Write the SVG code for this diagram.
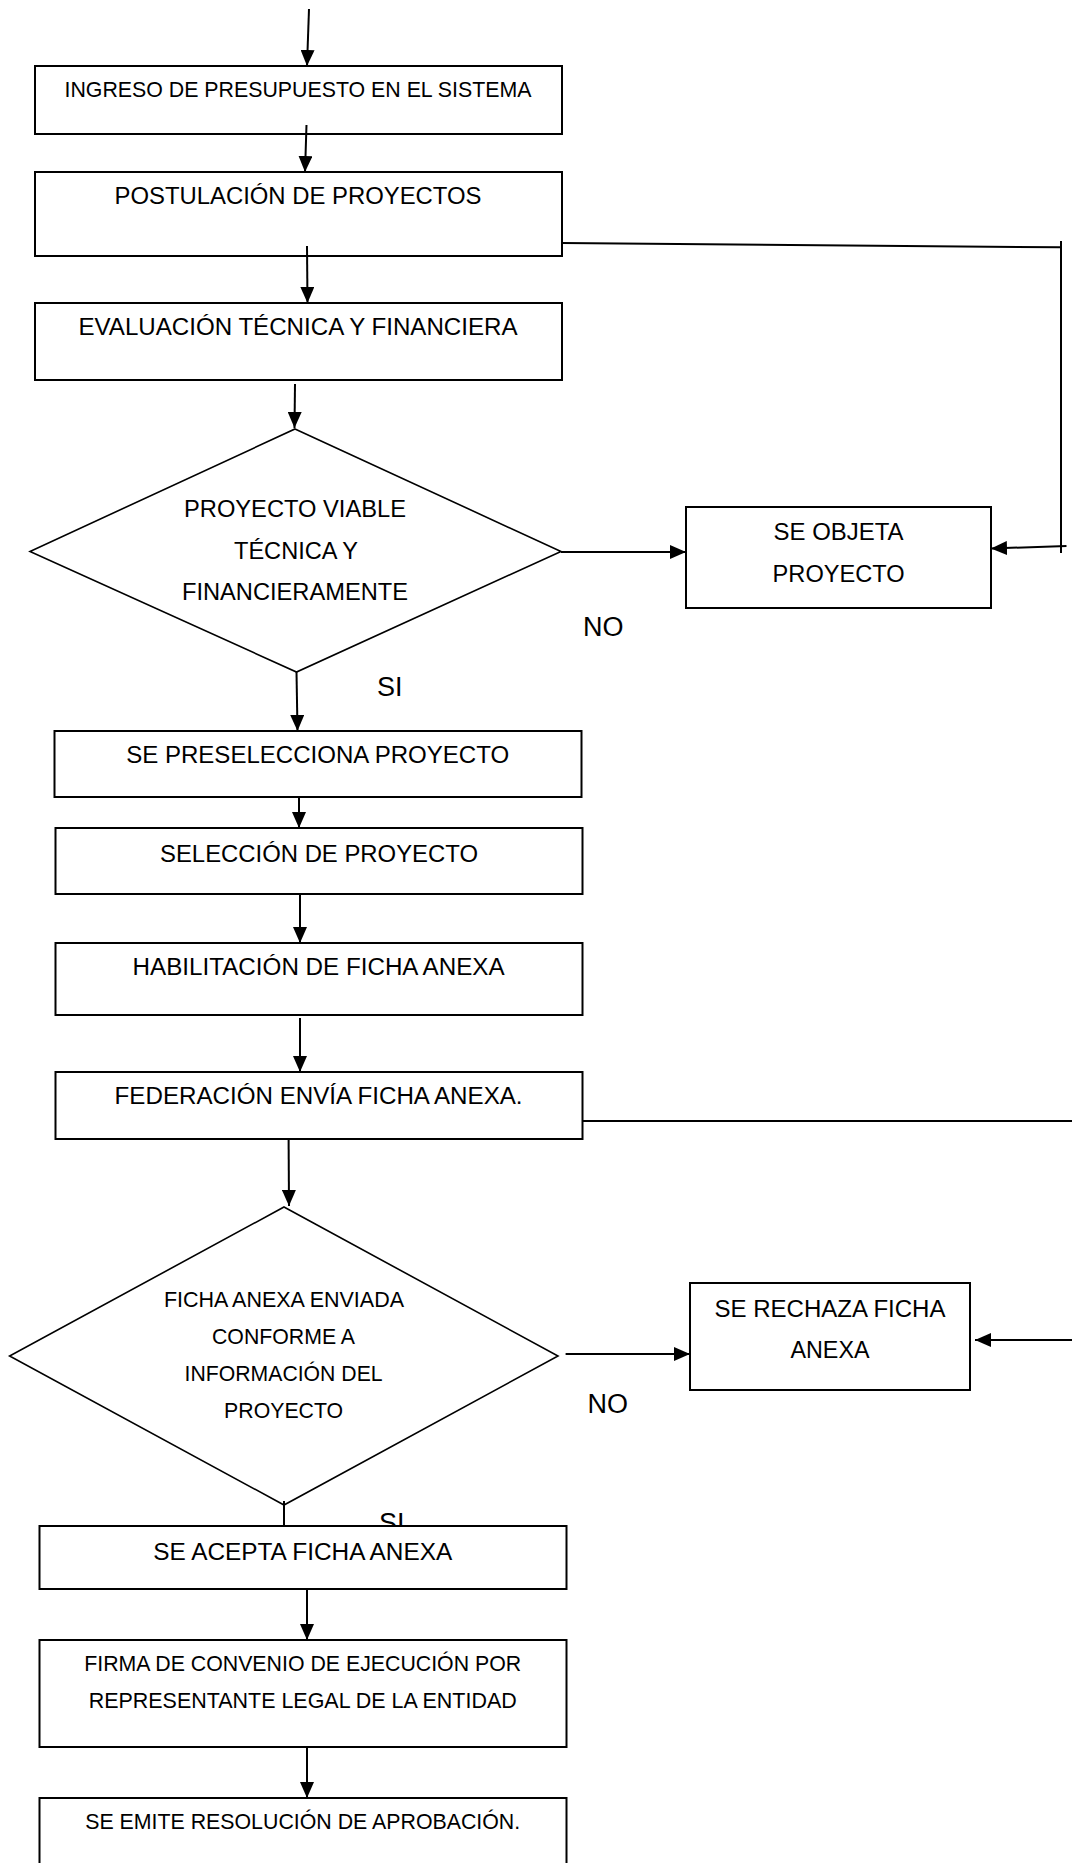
<svg xmlns="http://www.w3.org/2000/svg" width="1072" height="1863" viewBox="0 0 1072 1863">
<style>
.box{fill:#fff;stroke:#000;stroke-width:2}
.dia{fill:#fff;stroke:#000;stroke-width:1.6}
.t{font-family:"Liberation Sans",Arial,sans-serif;fill:#000;text-anchor:middle}
.s21{font-size:22.5px}
.s23{font-size:24.5px}
.lbl{font-family:"Liberation Sans",Arial,sans-serif;font-size:27px;fill:#000}
.c{stroke:#000;stroke-width:2;fill:none}
.a{marker-end:url(#ah)}
</style>
<defs>
<marker id="ah" markerUnits="userSpaceOnUse" markerWidth="16" markerHeight="14" refX="16" refY="7" orient="auto">
<path d="M0,0 L16,7 L0,14 z" fill="#000"/>
</marker>
</defs>
<rect width="1072" height="1863" fill="#fff"/>
<g id="label-si-2"><text class="lbl" x="379" y="1532">SI</text></g>
<g id="n1"><rect class="box" x="35" y="66" width="527" height="68"/><text class="t s21" x="298" y="97" textLength="467" lengthAdjust="spacingAndGlyphs">INGRESO DE PRESUPUESTO EN EL SISTEMA</text></g>
<g id="n2"><rect class="box" x="35" y="172" width="527" height="84"/><text class="t s23" x="298" y="204" textLength="367" lengthAdjust="spacingAndGlyphs">POSTULACIÓN DE PROYECTOS</text></g>
<g id="n3"><rect class="box" x="35" y="303" width="527" height="77"/><text class="t s23" x="298" y="335" textLength="439" lengthAdjust="spacingAndGlyphs">EVALUACIÓN TÉCNICA Y FINANCIERA</text></g>
<g id="d1"><polygon class="dia" points="295,429 561,551.5 296.5,672 30,551.5"/>
<text class="t s23" x="295" y="517" textLength="222" lengthAdjust="spacingAndGlyphs">PROYECTO VIABLE</text>
<text class="t s23" x="296" y="559" textLength="124" lengthAdjust="spacingAndGlyphs">TÉCNICA Y</text>
<text class="t s23" x="295" y="600" textLength="226" lengthAdjust="spacingAndGlyphs">FINANCIERAMENTE</text></g>
<g id="n-objeta"><rect class="box" x="686" y="507" width="305" height="101"/>
<text class="t s23" x="838.6" y="540" textLength="130" lengthAdjust="spacingAndGlyphs">SE OBJETA</text>
<text class="t s23" x="838.6" y="582" textLength="132" lengthAdjust="spacingAndGlyphs">PROYECTO</text></g>
<g id="n4"><rect class="box" x="54.5" y="731" width="527" height="66"/><text class="t s23" x="317.7" y="763" textLength="383" lengthAdjust="spacingAndGlyphs">SE PRESELECCIONA PROYECTO</text></g>
<g id="n5"><rect class="box" x="55.5" y="828" width="527" height="66"/><text class="t s23" x="319" y="862" textLength="318" lengthAdjust="spacingAndGlyphs">SELECCIÓN DE PROYECTO</text></g>
<g id="n6"><rect class="box" x="55.5" y="943" width="527" height="72"/><text class="t s23" x="318.6" y="975" textLength="372" lengthAdjust="spacingAndGlyphs">HABILITACIÓN DE FICHA ANEXA</text></g>
<g id="n7"><rect class="box" x="55.5" y="1072" width="527" height="67"/><text class="t s23" x="318.6" y="1104" textLength="408" lengthAdjust="spacingAndGlyphs">FEDERACIÓN ENVÍA FICHA ANEXA.</text></g>
<g id="d2"><polygon class="dia" points="284,1207 558,1356 284,1505 9.6,1356"/>
<text class="t s21" x="284" y="1307" textLength="240" lengthAdjust="spacingAndGlyphs">FICHA ANEXA ENVIADA</text>
<text class="t s21" x="283.5" y="1344" textLength="143" lengthAdjust="spacingAndGlyphs">CONFORME A</text>
<text class="t s21" x="283.6" y="1381" textLength="198" lengthAdjust="spacingAndGlyphs">INFORMACIÓN DEL</text>
<text class="t s21" x="283.6" y="1418" textLength="119" lengthAdjust="spacingAndGlyphs">PROYECTO</text></g>
<g id="n-rechaza"><rect class="box" x="690" y="1283" width="280" height="107"/>
<text class="t s23" x="830" y="1317" textLength="231" lengthAdjust="spacingAndGlyphs">SE RECHAZA FICHA</text>
<text class="t s23" x="830" y="1358" textLength="79" lengthAdjust="spacingAndGlyphs">ANEXA</text></g>
<g id="n8"><rect class="box" x="39.5" y="1526" width="527" height="63"/><text class="t s23" x="302.7" y="1560" textLength="299" lengthAdjust="spacingAndGlyphs">SE ACEPTA FICHA ANEXA</text></g>
<g id="n9"><rect class="box" x="39.5" y="1640" width="527" height="107"/>
<text class="t s21" x="302.7" y="1671" textLength="437" lengthAdjust="spacingAndGlyphs">FIRMA DE CONVENIO DE EJECUCIÓN POR</text>
<text class="t s21" x="302.7" y="1708" textLength="428" lengthAdjust="spacingAndGlyphs">REPRESENTANTE LEGAL DE LA ENTIDAD</text></g>
<g id="n10"><rect class="box" x="39.5" y="1798" width="527" height="80"/><text class="t s21" x="302.7" y="1829" textLength="435" lengthAdjust="spacingAndGlyphs">SE EMITE RESOLUCIÓN DE APROBACIÓN.</text></g>
<g id="connectors">
<line class="c a" x1="309" y1="9" x2="307" y2="66"/>
<line class="c a" x1="306.5" y1="125" x2="305" y2="172"/>
<line class="c a" x1="307" y1="246" x2="307.5" y2="303"/>
<line class="c a" x1="295" y1="384" x2="294.5" y2="428"/>
<line class="c a" x1="296.5" y1="672" x2="297.5" y2="731"/>
<line class="c a" x1="299" y1="797" x2="299" y2="828"/>
<line class="c a" x1="300" y1="894" x2="300" y2="943"/>
<line class="c a" x1="300" y1="1018" x2="300" y2="1072"/>
<line class="c a" x1="288.6" y1="1139" x2="289" y2="1206"/>
<line class="c" x1="284" y1="1501" x2="284" y2="1526"/>
<line class="c a" x1="307" y1="1589" x2="307" y2="1640"/>
<line class="c a" x1="307" y1="1747" x2="307" y2="1798"/>
<line class="c a" x1="561" y1="552" x2="686" y2="552"/>
<line class="c" x1="562" y1="243" x2="1061" y2="247.3"/>
<line class="c" x1="1061" y1="241" x2="1061" y2="553"/>
<line class="c a" x1="1066.5" y1="546" x2="991" y2="548.5"/>
<line class="c a" x1="565.6" y1="1354" x2="690" y2="1354"/>
<line class="c" x1="582.5" y1="1121" x2="1072" y2="1121"/>
<line class="c a" x1="1072" y1="1340" x2="975" y2="1340"/>
</g>
<g id="labels">
<text class="lbl" x="583" y="636">NO</text>
<text class="lbl" x="377" y="696">SI</text>
<text class="lbl" x="587.5" y="1413">NO</text>
</g>
</svg>
